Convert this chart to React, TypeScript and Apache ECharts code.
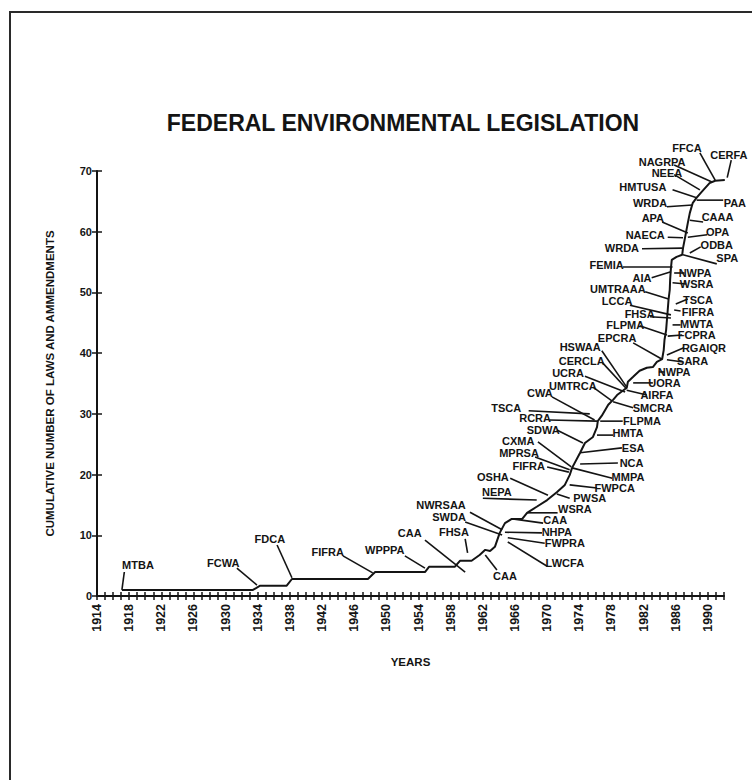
import React, { useEffect, useRef } from "react";
import * as echarts from "echarts";

const FONT = '"Liberation Sans", Arial, Helvetica, sans-serif';
const INK = "#141414";

const chartTitle = "FEDERAL ENVIRONMENTAL LEGISLATION";
const yAxisTitle = "CUMULATIVE NUMBER OF LAWS AND AMMENDMENTS";
const xAxisTitle = "YEARS";

const yearMin = 1914;
const yearMax = 1992;
const countMax = 70;

// cumulative curve [year, count]
const curvePoints: number[][] = [
  [1917.1, 1.0], [1933.4, 1.0], [1934.3, 1.7], [1937.6, 1.7], [1938.25, 2.8],
  [1947.7, 2.8], [1948.6, 3.95], [1954.8, 3.95], [1955.3, 4.8], [1958.5, 4.8],
  [1959.15, 5.8], [1960.6, 5.8], [1961.6, 6.75], [1962.3, 7.6], [1962.9, 7.4],
  [1963.5, 8.1], [1964.1, 10.4], [1964.75, 12.0], [1965.6, 12.7], [1966.9, 12.7],
  [1967.5, 13.7], [1968.7, 14.7], [1970.0, 15.8], [1971.2, 17.1], [1972.2, 18.3],
  [1972.8, 19.9], [1973.1, 21.1], [1974.1, 23.6], [1974.7, 25.2], [1975.7, 26.2],
  [1976.2, 27.8], [1976.3, 28.8], [1976.8, 29.7], [1977.6, 31.5], [1978.2, 32.3],
  [1978.7, 33.1], [1979.9, 34.3], [1980.05, 35.3], [1980.7, 36.1], [1981.5, 37.1],
  [1982.4, 37.6], [1983.15, 37.7], [1983.65, 38.55], [1984.3, 39.0], [1984.5, 40.5],
  [1984.6, 42.2], [1984.8, 43.8], [1984.9, 45.5], [1985.0, 47.1], [1985.1, 48.8],
  [1985.25, 50.4], [1985.3, 52.1], [1985.4, 54.0], [1985.5, 55.35], [1986.1, 55.85],
  [1986.8, 56.2], [1986.9, 57.3], [1987.1, 58.65], [1987.5, 61.45], [1987.75, 63.1],
  [1988.1, 64.7], [1988.6, 65.6], [1989.25, 66.6], [1990.2, 68.0], [1990.9, 68.4],
  [1992.1, 68.5],
];

const labelNames: string[] = [
  "MTBA", "FCWA", "FDCA", "FIFRA", "WPPPA", "CAA", "FHSA", "CAA", "NWRSAA", "SWDA",
  "NHPA", "FWPRA", "LWCFA", "CAA", "WSRA", "NEPA", "PWSA", "OSHA", "FWPCA", "FIFRA",
  "MMPA", "MPRSA", "CXMA", "NCA", "ESA", "SDWA", "HMTA", "RCRA", "FLPMA", "TSCA",
  "CWA", "SMCRA", "UMTRCA", "AIRFA", "UCRA", "UORA", "CERCLA", "HSWAA", "NWPA", "EPCRA",
  "SARA", "RGAIQR", "FLPMA", "FCPRA", "FHSA", "MWTA", "LCCA", "FIFRA", "UMTRAAA", "TSCA",
  "AIA", "WSRA", "NWPA", "FEMIA", "SPA", "WRDA", "ODBA", "NAECA", "OPA", "APA",
  "CAAA", "WRDA", "PAA", "HMTUSA", "NEEA", "NAGRPA", "FFCA", "CERFA",
];

// label centre [year, count]
const labelAt: number[][] = [
  [1919.1, 5.1], [1929.7, 5.4], [1935.5, 9.4], [1942.7, 7.25], [1949.8, 7.6],
  [1952.9, 10.4], [1958.4, 10.5], [1964.75, 3.3], [1956.8, 15.0], [1957.8, 13.0],
  [1971.2, 10.5], [1972.2, 8.7], [1972.2, 5.4], [1971.0, 12.45], [1973.45, 14.4],
  [1963.75, 17.1], [1975.3, 16.2], [1963.25, 19.6], [1978.4, 17.8], [1967.7, 21.4],
  [1980.05, 19.6], [1966.5, 23.6], [1966.4, 25.5], [1980.5, 21.9], [1980.7, 24.4],
  [1969.5, 27.35], [1980.05, 26.85], [1968.5, 29.35], [1981.8, 28.8], [1964.9, 31.0],
  [1969.1, 33.4], [1983.15, 31.0], [1973.2, 34.6], [1983.65, 33.1], [1972.6, 36.7],
  [1984.6, 35.1], [1974.3, 38.7], [1974.1, 41.0], [1985.8, 36.9], [1978.7, 42.5],
  [1988.1, 38.7], [1989.5, 40.9], [1979.7, 44.65], [1988.6, 43.0], [1981.5, 46.4],
  [1988.6, 44.8], [1978.7, 48.6], [1988.75, 46.8], [1978.8, 50.6], [1988.75, 48.8],
  [1981.8, 52.4], [1988.6, 51.4], [1988.4, 53.2], [1977.4, 54.5], [1992.4, 55.7],
  [1979.3, 57.3], [1991.1, 57.8], [1982.2, 59.5], [1991.2, 60.0], [1983.15, 62.3],
  [1991.2, 62.4], [1982.8, 64.7], [1993.35, 64.7], [1981.9, 67.4], [1984.9, 69.7],
  [1984.3, 71.5], [1987.4, 73.8], [1992.6, 72.65],
];

// leader line ends [year, count]
const leaderStart: number[][] = [
  [1917.4, 3.95], [1931.4, 4.6], [1936.4, 8.4], [1944.6, 6.6], [1952.3, 6.6],
  [1954.8, 9.2], [1959.8, 9.4], [1962.3, 6.75], [1960.4, 13.8], [1959.8, 12.2],
  [1964.75, 10.5], [1965.1, 9.6], [1965.1, 8.9], [1965.7, 12.7], [1967.5, 13.7],
  [1962.0, 16.1], [1971.2, 16.8], [1965.4, 19.4], [1972.8, 18.3], [1970.0, 21.25],
  [1973.1, 21.1], [1968.5, 22.9], [1968.85, 25.4], [1974.1, 21.75], [1974.1, 23.6],
  [1971.2, 27.35], [1976.2, 26.5], [1970.3, 29.0], [1976.6, 28.8], [1967.7, 30.5],
  [1970.6, 32.8], [1978.2, 32.0], [1975.7, 34.4], [1979.9, 33.9], [1974.7, 36.2],
  [1980.7, 35.1], [1976.9, 38.4], [1976.8, 40.4], [1983.9, 36.9], [1980.7, 41.7],
  [1984.9, 38.9], [1984.9, 39.7], [1981.5, 44.5], [1985.0, 42.8], [1982.8, 46.0],
  [1985.6, 44.65], [1980.3, 47.9], [1985.8, 47.1], [1982.2, 50.1], [1986.0, 48.1],
  [1983.0, 52.4], [1985.6, 51.6], [1985.8, 53.2], [1979.4, 54.2], [1986.9, 56.2],
  [1981.8, 57.2], [1987.75, 56.5], [1985.0, 59.1], [1987.5, 59.1], [1984.3, 61.6],
  [1987.75, 61.9], [1984.9, 64.1], [1988.6, 65.2], [1985.6, 66.9], [1985.8, 69.4],
  [1985.8, 71.0], [1989.0, 73.0], [1992.9, 71.8],
];

const leaderEnd: number[][] = [
  [1917.1, 1.0], [1933.9, 1.8], [1938.25, 3.0], [1948.3, 3.8], [1954.8, 4.6],
  [1959.8, 3.95], [1960.1, 7.1], [1963.75, 4.3], [1964.4, 10.9], [1964.4, 10.05],
  [1969.35, 10.4], [1969.7, 8.7], [1970.0, 4.9], [1969.5, 12.0], [1971.3, 13.7],
  [1968.7, 15.8], [1972.8, 16.1], [1970.1, 16.6], [1976.2, 17.8], [1972.7, 20.4],
  [1978.1, 19.4], [1972.8, 20.8], [1973.0, 21.25], [1978.8, 21.9], [1979.3, 24.4],
  [1974.45, 25.2], [1978.2, 26.5], [1976.2, 28.8], [1979.4, 28.8], [1975.3, 30.0],
  [1975.9, 29.0], [1980.7, 31.0], [1978.1, 32.1], [1982.4, 33.1], [1979.7, 33.6],
  [1983.15, 35.1], [1979.9, 34.1], [1979.9, 34.4], [1984.6, 36.9], [1984.3, 39.0],
  [1986.9, 38.55], [1987.0, 40.9], [1984.9, 43.0], [1986.8, 43.0], [1985.4, 45.8],
  [1986.6, 44.65], [1985.4, 46.3], [1986.6, 46.95], [1985.1, 48.9], [1987.5, 48.9],
  [1985.4, 53.4], [1987.3, 51.4], [1987.1, 53.2], [1985.6, 54.2], [1991.1, 54.7],
  [1986.8, 57.3], [1989.1, 57.5], [1986.9, 59.0], [1989.9, 59.5], [1987.5, 59.8],
  [1989.4, 61.6], [1988.1, 64.4], [1991.9, 65.2], [1988.6, 65.6], [1989.0, 66.9],
  [1990.5, 68.2], [1990.9, 68.5], [1992.4, 68.9],
];

const W = 752;
const H = 780;

export default function App() {
  const ref = useRef<HTMLDivElement>(null);

  useEffect(() => {
    if (!ref.current) return;
    const chart = echarts.init(ref.current, null, { renderer: "svg" });

    const annotationRows = labelNames.map((_, i) => [
      labelAt[i][0], labelAt[i][1],
      leaderStart[i][0], leaderStart[i][1],
      leaderEnd[i][0], leaderEnd[i][1],
    ]);

    const axisFont = { fontFamily: FONT, fontWeight: "bold" as const, color: INK };

    const option: any = {
      animation: false,
      backgroundColor: "#ffffff",
      grid: { left: 97, right: W - 724, top: 171, bottom: H - 596, containLabel: false },
      graphic: [
        {
          type: "polyline",
          shape: { points: [[10, H], [10, 12], [W, 12]] },
          style: { stroke: "#2a2a2a", lineWidth: 2, fill: "none" },
          silent: true,
        },
        {
          type: "text",
          x: 403,
          y: 123,
          style: {
            text: chartTitle,
            font: `bold 23px ${FONT}`,
            fill: INK,
            align: "center",
            verticalAlign: "middle",
          },
          silent: true,
        },
      ],
      xAxis: [
        {
          type: "value",
          min: yearMin,
          max: yearMax,
          interval: 1,
          axisLine: { show: true, lineStyle: { color: INK, width: 2 } },
          axisTick: { show: true, length: 4, lineStyle: { color: INK, width: 1.5 } },
          axisLabel: {
            ...axisFont,
            fontSize: 12.5,
            rotate: 90,
            margin: 8,
            formatter: (v: number) => {
              const y = Math.round(v);
              return (y - yearMin) % 4 === 0 ? String(y) : "";
            },
          },
          splitLine: { show: false },
          name: xAxisTitle,
          nameLocation: "middle",
          nameGap: 60,
          nameTextStyle: { ...axisFont, fontSize: 11.5 },
        },
        {
          type: "value",
          min: yearMin,
          max: yearMax,
          interval: 1,
          position: "bottom",
          axisLine: { show: false },
          axisTick: { show: true, inside: true, length: 4, lineStyle: { color: INK, width: 1.5 } },
          axisLabel: { show: false },
          splitLine: { show: false },
        },
      ],
      yAxis: [
        {
          type: "value",
          min: 0,
          max: countMax,
          interval: 10,
          axisLine: { show: true, lineStyle: { color: INK, width: 2 } },
          axisTick: { show: true, length: 5, lineStyle: { color: INK, width: 1.5 } },
          axisLabel: { ...axisFont, fontSize: 11, margin: 5 },
          splitLine: { show: false },
          name: yAxisTitle,
          nameLocation: "middle",
          nameGap: 41,
          nameRotate: 90,
          nameTextStyle: { ...axisFont, fontSize: 11.5 },
        },
        {
          type: "value",
          min: 0,
          max: countMax,
          interval: 10,
          position: "left",
          axisLine: { show: false },
          axisTick: { show: true, inside: true, length: 5, lineStyle: { color: INK, width: 1.5 } },
          axisLabel: { show: false },
          splitLine: { show: false },
        },
      ],
      series: [
        {
          type: "line",
          xAxisIndex: 0,
          yAxisIndex: 0,
          data: curvePoints,
          showSymbol: false,
          clip: false,
          silent: true,
          lineStyle: { color: INK, width: 2 },
        },
        {
          type: "custom",
          xAxisIndex: 0,
          yAxisIndex: 0,
          clip: false,
          silent: true,
          data: annotationRows,
          encode: { x: [0, 2, 4], y: [1, 3, 5] },
          renderItem: (params: any, api: any) => {
            const p = api.coord([api.value(0), api.value(1)]);
            const a = api.coord([api.value(2), api.value(3)]);
            const b = api.coord([api.value(4), api.value(5)]);
            return {
              type: "group",
              children: [
                {
                  type: "line",
                  shape: { x1: a[0], y1: a[1], x2: b[0], y2: b[1] },
                  style: { stroke: INK, lineWidth: 1.6 },
                },
                {
                  type: "text",
                  x: p[0],
                  y: p[1],
                  style: {
                    text: labelNames[params.dataIndex],
                    font: `bold 11px ${FONT}`,
                    fill: INK,
                    align: "center",
                    verticalAlign: "middle",
                  },
                },
              ],
            };
          },
        },
      ],
    };

    chart.setOption(option);
    return () => chart.dispose();
  }, []);

  return (
    <div
      ref={ref}
      style={{ position: "absolute", left: 0, top: 0, width: W, height: H, background: "#fff" }}
    />
  );
}
